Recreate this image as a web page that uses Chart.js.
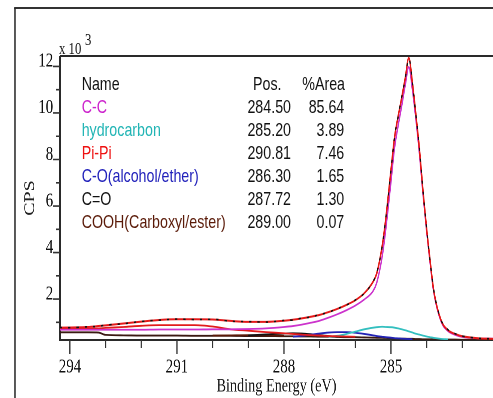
<!DOCTYPE html>
<html><head><meta charset="utf-8">
<script src="https://cdn.jsdelivr.net/npm/chart.js@4.4.1/dist/chart.umd.min.js"></script>
<style>
html,body{margin:0;padding:0;background:#fff;overflow:hidden;width:493px;height:398px;}
#wrap{position:absolute;left:0;top:0;width:658px;height:398px;transform:scaleX(0.74924);transform-origin:0 0;}
#frame{position:absolute;left:19px;top:7px;width:700px;height:420px;border-left:2.6px solid #222;border-top:2px solid #333;}
canvas{position:absolute;left:0;top:0;}
.t{position:absolute;font-family:'Liberation Sans',Arial,sans-serif;font-size:19px;line-height:23px;white-space:nowrap;color:#111;}
.s{position:absolute;font-family:'Liberation Serif','Times New Roman',serif;color:#111;white-space:nowrap;}
</style></head>
<body>
<div id="wrap">
 <div id="frame"></div>
 <canvas id="c" width="658" height="398"></canvas>
 <span class="s" style="left:78.8px;top:40.3px;font-size:17px;line-height:17px;">x 10</span>
 <span class="s" style="left:113.5px;top:30.8px;font-size:17px;line-height:17px;">3</span>
 <div id="legend"></div>
</div>
<script>
// Binding energy grid (eV)
const ENERGY_EV = [294.28,294,293.5,293.2,293,292.5,292,291.5,291,290.5,
  290,289.5,289,288.5,288,287.75,287.5,287.25,287,286.75,
  286.5,286.25,286,285.75,285.5,285.4,285.25,285.15,285,284.9,
  284.8,284.7,284.6,284.5,284.4,284.3,284.2,284.1,284,283.9,
  283.8,283.6,283.4,283.2,283,282.5,282.14];
// CPS x 10^3
const ENVELOPE = [0.77,0.78,0.80,0.84,0.87,0.95,1.03,1.10,1.13,1.13,
  1.12,1.06,1.02,1.02,1.07,1.11,1.17,1.24,1.32,1.44,
  1.58,1.75,1.95,2.25,2.75,3.10,4.25,5.40,7.55,8.95,
  9.85,10.65,11.5,12.37,11.3,9.9,8.4,6.6,5.0,3.6,
  2.35,1.10,0.66,0.50,0.40,0.31,0.29];
const RAW_DATA = [0.78,0.77,0.81,0.83,0.88,0.94,1.04,1.09,1.14,1.12,
  1.13,1.05,1.03,1.01,1.08,1.10,1.18,1.23,1.33,1.43,
  1.59,1.74,1.96,2.24,2.76,3.12,4.23,5.42,7.53,8.97,
  9.83,10.67,11.48,12.35,11.32,9.88,8.42,6.58,5.02,3.58,
  2.37,1.12,0.68,0.51,0.41,0.31,0.29];
const CC = [0.68,0.68,0.68,0.68,0.68,0.68,0.68,0.69,0.69,0.69,
  0.70,0.70,0.71,0.74,0.80,0.84,0.90,0.98,1.07,1.20,
  1.35,1.52,1.72,1.98,2.35,2.70,3.80,4.95,7.05,8.50,
  9.45,10.30,11.20,11.98,11.0,9.7,8.2,6.45,4.9,3.5,
  2.28,1.05,0.62,0.46,0.37,0.31,0.30];
const HYDROCARBON = [null,null,null,null,null,null,null,null,null,null,
  null,null,null,null,null,null,null,null,null,0.38,
  0.42,0.50,0.60,0.70,0.77,0.79,0.81,0.80,0.79,0.77,
  0.74,0.70,0.66,0.61,0.56,0.51,0.47,0.43,0.39,0.36,
  0.33,0.29,0.27,null,null,null,null];
const PIPI = [0.73,0.73,0.73,0.74,0.76,0.80,0.85,0.88,0.88,0.88,
  0.82,0.70,0.64,0.58,0.53,0.50,0.47,0.45,0.43,0.41,
  0.40,0.39,0.38,null,null,null,null,null,null,null,
  null,null,null,null,null,null,null,null,null,null,
  null,null,null,null,null,null,null];
const CO_ETHER = [null,null,null,null,null,null,null,null,null,null,
  null,null,null,null,null,0.38,0.42,0.47,0.52,0.56,
  0.58,0.58,0.55,0.50,0.44,0.41,0.38,0.36,0.34,0.32,
  0.31,0.30,0.29,0.28,0.27,null,null,null,null,null,
  null,null,null,null,null,null,null];
const C_DOUBLE_O = [null,null,null,null,null,null,null,null,null,null,
  null,null,0.44,0.48,0.52,0.53,0.52,0.49,0.45,0.41,
  0.38,null,null,null,null,null,null,null,null,null,
  null,null,null,null,null,null,null,null,null,null,
  null,null,null,null,null,null,null];
const COOH = [null,null,null,null,null,null,null,null,null,null,
  0.43,0.44,0.45,0.44,0.42,null,null,null,null,null,
  null,null,null,null,null,null,null,null,null,null,
  null,null,null,null,null,null,null,null,null,null,
  null,null,null,null,null,null,null];
const BACKGROUND = [0.57,0.57,0.57,0.56,0.46,0.44,0.43,0.43,0.43,0.42,
  0.42,0.42,0.41,0.41,0.40,0.40,0.39,0.39,0.38,0.38,
  0.37,0.36,0.36,0.35,0.34,0.335,0.33,0.325,0.32,0.31,
  0.31,0.30,0.30,0.29,0.29,0.28,0.28,0.27,0.27,0.27,
  0.26,0.26,0.26,0.26,0.25,0.25,0.25];

const X_TICKS = [294,293,292,291,290,289,288,287,286,285,284,283];
const X_LABELED = [294,291,288,285];
const Y_TICKS = [1,2,3,4,5,6,7,8,9,10,11,12];
const Y_LABELED = [2,4,6,8,10,12];

const LEGEND_NAMES = ['C-C','hydrocarbon','Pi-Pi','C-O(alcohol/ether)','C=O','COOH(Carboxyl/ester)'];
const LEGEND_POS = ['284.50','285.20','290.81','286.30','287.72','289.00'];
const LEGEND_AREA = ['85.64','3.89','7.46','1.65','1.30','0.07'];
const LEGEND_COLORS = ['#cc22cc','#22b5b5','#ee1111','#2222bb','#111111','#5a1a08'];

// legend table (real text)
const lg = document.getElementById('legend');
function addText(txt, left, top, color, right) {
  const d = document.createElement('div');
  d.className = 't';
  d.textContent = txt;
  d.style.top = top + 'px';
  d.style.color = color;
  if (right) { d.style.left = (left - 200) + 'px'; d.style.width = '200px'; d.style.textAlign = 'right'; }
  else d.style.left = left + 'px';
  lg.appendChild(d);
}
addText('Name', 109, 71.5, '#111');
addText('Pos.', 337.7, 71.5, '#111');
addText('%Area', 460.5, 71.5, '#111', true);
LEGEND_NAMES.forEach((n, i) => {
  const top = 94.5 + i * 23;
  addText(n, 109, top, LEGEND_COLORS[i]);
  addText(LEGEND_POS[i], 388.4, top, '#111', true);
  addText(LEGEND_AREA[i], 459.5, top, '#111', true);
});

const pts = arr => ENERGY_EV.map((e, i) => ({x: e, y: arr[i]}));
const serif = "'Liberation Serif','Times New Roman',serif";

const framePlugin = {
  id: 'frame',
  beforeDatasetsDraw(chart) {
    const {ctx, chartArea: a, scales: {x, y}} = chart;
    ctx.save();
    ctx.strokeStyle = '#2a2a2a';
    ctx.lineWidth = 2;
    ctx.beginPath();
    ctx.moveTo(a.left, a.top); ctx.lineTo(a.right, a.top);
    ctx.moveTo(a.left, a.top); ctx.lineTo(a.left, a.bottom);
    ctx.moveTo(a.left - 1, a.bottom); ctx.lineTo(a.right, a.bottom);
    ctx.stroke();
    ctx.lineWidth = 1.6;
    ctx.strokeStyle = '#333';
    ctx.beginPath();
    X_TICKS.forEach(v => {
      const px = x.getPixelForValue(v);
      const len = X_LABELED.includes(v) ? 14 : 8;
      ctx.moveTo(px, a.bottom); ctx.lineTo(px, a.bottom + len);
    });
    Y_TICKS.forEach(v => {
      const py = y.getPixelForValue(v);
      const len = Y_LABELED.includes(v) ? 9.3 : 5;
      ctx.moveTo(a.left, py); ctx.lineTo(a.left - len, py);
    });
    ctx.stroke();
    ctx.restore();
  }
};

const ds = (label, arr, color, width, extra) => Object.assign({
  label, data: pts(arr), borderColor: color, borderWidth: width,
  pointRadius: 0, fill: false, cubicInterpolationMode: 'monotone', spanGaps: false
}, extra || {});

new Chart(document.getElementById('c'), {
  type: 'line',
  data: {
    datasets: [
      ds('Raw data', RAW_DATA, '#111111', 1.6, {borderDash: [3, 8]}),
      ds('Envelope', ENVELOPE, '#e41a1a', 2),
      ds('C-C', CC, '#cc33cc', 1.8),
      ds('Pi-Pi', PIPI, '#e21c1c', 1.8),
      ds('hydrocarbon', HYDROCARBON, '#33bfbf', 1.8),
      ds('C-O(alcohol/ether)', CO_ETHER, '#2323b5', 1.8),
      ds('C=O', C_DOUBLE_O, '#111111', 1.8),
      ds('COOH(Carboxyl/ester)', COOH, '#5a1a08', 1.8),
      ds('Background', BACKGROUND, '#3a1a12', 1.8)
    ]
  },
  options: {
    responsive: false,
    animation: false,
    devicePixelRatio: 2,
    layout: {padding: {top: 56, left: 0, right: 0, bottom: 0}},
    plugins: {legend: {display: false}, tooltip: {enabled: false}},
    scales: {
      x: {
        type: 'linear', reverse: true, min: 282.14, max: 294.28,
        afterFit: s => { s.height = 58; },
        afterBuildTicks: s => { s.ticks = X_TICKS.map(v => ({value: v})); },
        grid: {display: false, drawTicks: false},
        border: {display: false},
        ticks: {
          autoSkip: false, maxRotation: 0, padding: 15, color: '#111',
          font: {family: serif, size: 20},
          callback: v => X_LABELED.includes(v) ? String(v) : ''
        },
        title: {display: true, text: 'Binding Energy (eV)', color: '#1a1a1a',
          font: {family: serif, size: 19}, padding: {top: 0, bottom: 0}}
      },
      y: {
        type: 'linear', min: 0.24, max: 12.45,
        afterFit: s => { s.width = 80; },
        afterBuildTicks: s => { s.ticks = Y_TICKS.map(v => ({value: v})); },
        grid: {display: false, drawTicks: false},
        border: {display: false},
        ticks: {
          autoSkip: false, padding: 9, labelOffset: -5, color: '#111',
          font: {family: serif, size: 20},
          callback: v => Y_LABELED.includes(v) ? String(v) : ''
        },
        title: {display: true, text: 'CPS', color: '#222',
          font: {family: serif, size: 20}, padding: {top: 28, bottom: 0}}
      }
    }
  },
  plugins: [framePlugin]
});
</script>
</body></html>
